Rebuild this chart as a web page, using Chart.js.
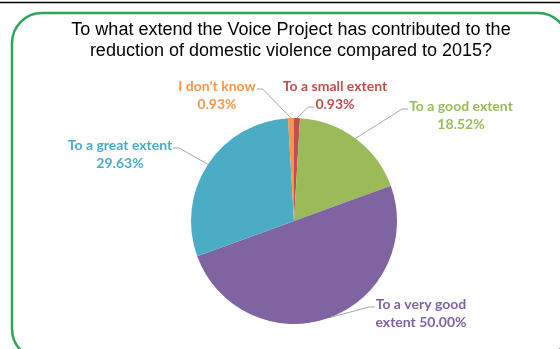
<!DOCTYPE html>
<html>
<head>
<meta charset="utf-8">
<script src="https://cdn.jsdelivr.net/npm/chart.js@4/dist/chart.umd.min.js"></script>
<style>
  html, body { margin: 0; padding: 0; background: #fff; }
  #wrap { width: 560px; height: 349px; position: relative; }
</style>
</head>
<body>
<div id="wrap"><canvas id="myPieChart" width="560" height="349"></canvas></div>
<script>
var titleLines = ['To what extend the Voice Project has contributed to the',
                  'reduction of domestic violence compared to 2015?'];
var categories = ['To a small extent', 'To a good extent', 'To a very good extent', 'To a great extent', "I don\u2019t know"];
var percents = [0.93, 18.52, 50.00, 29.63, 0.93];
// how each label is broken over two lines
var labelLines = [
    ['To a small extent', '0.93%'],
    ['To a good extent', '18.52%'],
    ['To a very good', 'extent 50.00%'],
    ['To a great extent', '29.63%'],
    ["I don\u2019t know", '0.93%']
];
var sliceColors = ['#C0504D', '#9BBB59', '#8064A2', '#4BACC6', '#F79646'];

// where the labels sit (center x, first line y) and which line the leader attaches to
var labelLayout = [
    { x: 335, y: 86, side: 'left', line: 1 },
    { x: 461, y: 106, side: 'left', line: 0 },
    { x: 421, y: 304, side: 'left', line: 0 },
    { x: 120, y: 145, side: 'right', line: 0 },
    { x: 217, y: 86, side: 'right', line: 0 }
];

var framePlugin = {
    id: 'frame',
    beforeDraw: function (chart) {
        var c = chart.ctx;
        c.save();
        // thin black rule on top
        c.strokeStyle = '#000';
        c.lineWidth = 1.5;
        c.beginPath();
        c.moveTo(0, 2.5);
        c.lineTo(560, 2.5);
        c.stroke();
        // green rounded border
        c.strokeStyle = '#2EA55A';
        c.lineWidth = 2.5;
        c.beginPath();
        c.roundRect(12, 13, 556, 346, 30);
        c.stroke();
        // title
        c.fillStyle = '#000';
        c.font = '18px "Liberation Sans", Arial, sans-serif';
        c.textAlign = 'center';
        c.textBaseline = 'middle';
        c.fillText(titleLines[0], 291, 30);
        c.fillText(titleLines[1], 291, 51);
        c.restore();
    },
    afterDatasetsDraw: function (chart) {
        var c = chart.ctx;
        var meta = chart.getDatasetMeta(0);
        c.save();
        c.font = 'bold 14px Lato, "Open Sans", sans-serif';
        c.textAlign = 'center';
        c.textBaseline = 'middle';
        meta.data.forEach(function (arc, i) {
            var lay = labelLayout[i];
            var lines = labelLines[i];
            var mid = (arc.startAngle + arc.endAngle) / 2;
            var px = arc.x + Math.cos(mid) * arc.outerRadius;
            var py = arc.y + Math.sin(mid) * arc.outerRadius;
            var w = c.measureText(lines[lay.line]).width;
            var ay = lay.y + lay.line * 18 + 3;
            var ax, ex;
            if (lay.side === 'left') {
                ax = lay.x - w / 2 - 1;
                ex = ax - 6;
            } else {
                ax = lay.x + w / 2 + 1;
                ex = ax + 6;
            }
            c.strokeStyle = '#A6A6A6';
            c.lineWidth = 1;
            c.beginPath();
            c.moveTo(px, py);
            c.lineTo(ex, ay);
            c.lineTo(ax, ay);
            c.stroke();
            c.fillStyle = sliceColors[i];
            lines.forEach(function (t, k) {
                c.fillText(t, lay.x, lay.y + k * 18);
            });
        });
        c.restore();
    }
};

var ctx = document.getElementById('myPieChart').getContext('2d');
var chart = new Chart(ctx, {
    type: 'pie',
    data: {
        labels: categories,
        datasets: [{
            data: percents,
            backgroundColor: sliceColors,
            borderWidth: 0
        }]
    },
    options: {
        responsive: false,
        animation: false,
        layout: {
            padding: { top: 118, bottom: 25, left: 191, right: 163 }
        },
        plugins: {
            legend: { display: false },
            tooltip: { enabled: false }
        }
    },
    plugins: [framePlugin]
});
</script>
</body>
</html>
